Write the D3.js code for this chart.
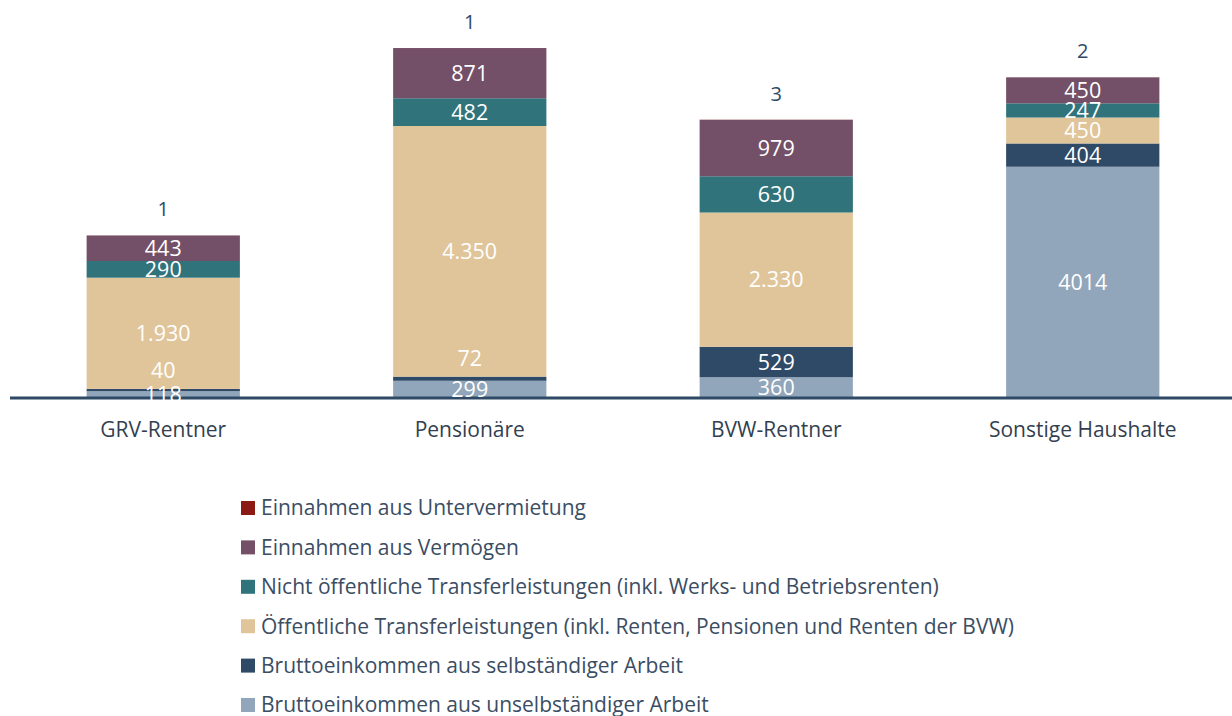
<!DOCTYPE html>
<html>
<head>
<meta charset="utf-8">
<script src="https://cdn.jsdelivr.net/npm/d3@7"></script>
<style>
body { margin: 0; background: #fff; }
svg { display: block; font-family: "Open Sans", Lato, sans-serif; }
</style>
</head>
<body>
<div id="chart"></div>
<script>
// data
var categories = ["GRV-Rentner", "Pensionäre", "BVW-Rentner", "Sonstige Haushalte"];
var seriesNames = [
  "Bruttoeinkommen aus unselbständiger Arbeit",
  "Bruttoeinkommen aus selbständiger Arbeit",
  "Öffentliche Transferleistungen (inkl. Renten, Pensionen und Renten der BVW)",
  "Nicht öffentliche Transferleistungen (inkl. Werks- und Betriebsrenten)",
  "Einnahmen aus Vermögen",
  "Einnahmen aus Untervermietung"
];
var unselbstaendig = [118, 299, 360, 4014];
var selbstaendig = [40, 72, 529, 404];
var oeffentlich = [1930, 4350, 2330, 450];
var nichtOeffentlich = [290, 482, 630, 247];
var vermoegen = [443, 871, 979, 450];
var untervermietung = [1, 1, 3, 2];
var labelText = [
  ["118", "299", "360", "4014"],
  ["40", "72", "529", "404"],
  ["1.930", "4.350", "2.330", "450"],
  ["290", "482", "630", "247"],
  ["443", "871", "979", "450"],
  ["1", "1", "3", "2"]
];
var colors = ["#91a6ba", "#2e4a66", "#e0c59a", "#31737b", "#734f68", "#8b1a14"];

var values = [unselbstaendig, selbstaendig, oeffentlich, nichtOeffentlich, vermoegen, untervermietung];
var rows = categories.map(function(c, i) {
  var o = { cat: c };
  values.forEach(function(v, k) { o["s" + k] = v[i]; });
  return o;
});
var keys = values.map(function(v, k) { return "s" + k; });

var W = 1232, H = 716;
var svg = d3.select("#chart").append("svg")
  .attr("width", W).attr("height", H);

var x = d3.scaleBand().domain(categories).range([10, 1236])
  .paddingInner(0.5).paddingOuter(0.25);
var y = d3.scaleLinear().domain([0, 6075]).range([398, 48]);

var stack = d3.stack().keys(keys)(rows);

var layer = svg.selectAll(".layer")
  .data(stack)
  .enter().append("g")
  .attr("class", "layer")
  .style("fill", function(d, i) { return colors[i]; });

layer.selectAll("rect")
  .data(function(d) { return d; })
  .enter().append("rect")
  .attr("x", function(d) { return x(d.data.cat); })
  .attr("width", x.bandwidth())
  .attr("y", function(d) { return y(d[1]); })
  .attr("height", function(d) { return y(d[0]) - y(d[1]); });

// axis line
svg.append("line")
  .attr("x1", 10).attr("x2", 1232)
  .attr("y1", 398).attr("y2", 398)
  .style("stroke", "#2e4a66").style("stroke-width", 3);

// value labels (drawn over the axis line, as in the original)
stack.forEach(function(s, k) {
  s.forEach(function(d, i) {
    var h = y(d[0]) - y(d[1]);
    var cy = (y(d[0]) + y(d[1])) / 2;
    var fill = "#fff";
    var size = "21.5px";
    if (k === 5) { cy = y(d[1]) - 26; fill = "#2e4a66"; size = "20px"; }
    else if (k === 1 && h < 10) { cy = y(d[1]) - 18; }
    svg.append("text")
      .attr("x", x(d.data.cat) + x.bandwidth() / 2)
      .attr("y", cy)
      .attr("dy", "0.35em")
      .style("text-anchor", "middle")
      .style("font-size", size)
      .style("fill", fill)
      .text(labelText[k][i]);
  });
});

// category labels
svg.selectAll(".cat")
  .data(categories)
  .enter().append("text")
  .attr("class", "cat")
  .attr("x", function(d) { return x(d) + x.bandwidth() / 2; })
  .attr("y", 430)
  .attr("dy", "0.35em")
  .style("text-anchor", "middle")
  .style("font-size", "21px")
  .style("fill", "#333f50")
  .text(function(d) { return d; });

// legend, top to bottom in reverse stack order
var legendOrder = [5, 4, 3, 2, 1, 0];
var legend = svg.selectAll(".legend")
  .data(legendOrder)
  .enter().append("g")
  .attr("class", "legend")
  .attr("transform", function(d, i) { return "translate(241," + (508 + i * 39.4) + ")"; });

legend.append("rect")
  .attr("x", 0).attr("y", -7)
  .attr("width", 14).attr("height", 14)
  .style("fill", function(d) { return colors[d]; });

legend.append("text")
  .attr("x", 20)
  .attr("dy", "0.35em")
  .style("font-size", "21px")
  .style("fill", "#3b4d63")
  .text(function(d) { return seriesNames[d]; });
</script>
</body>
</html>
